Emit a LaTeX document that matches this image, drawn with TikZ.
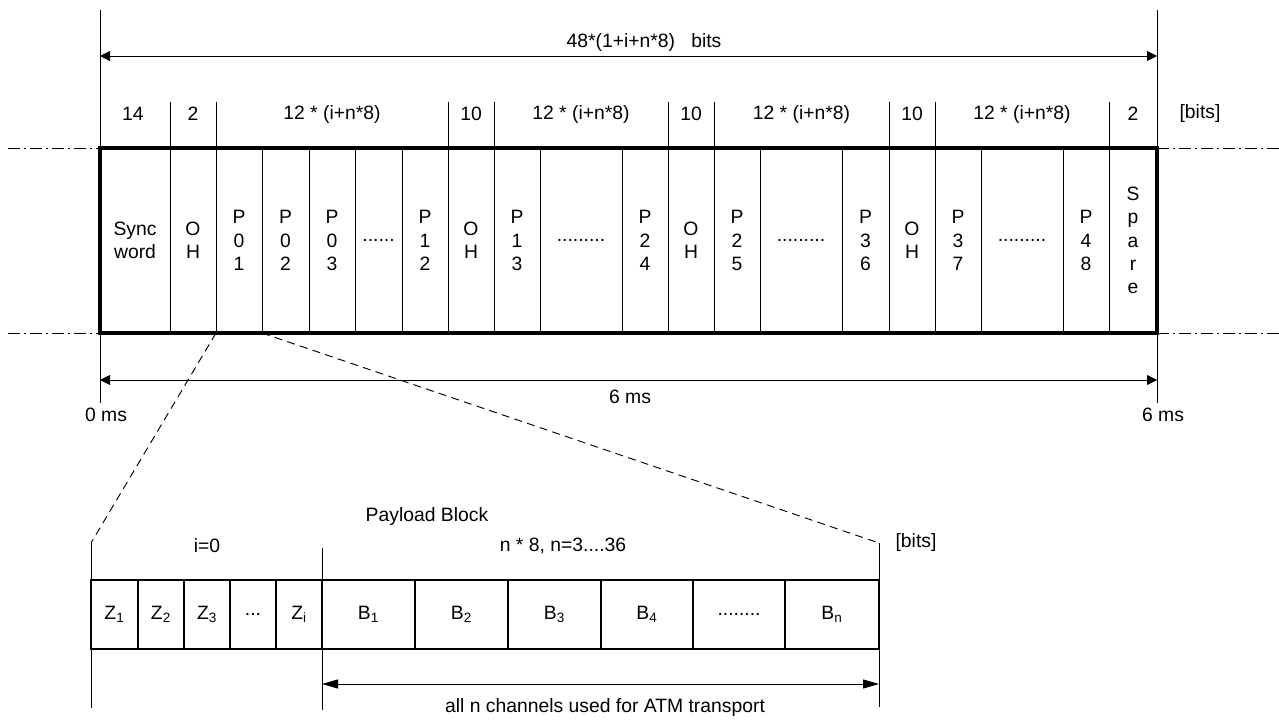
\documentclass[tikz,border=0pt]{standalone}
\usepackage{fontspec}
\setmainfont{Liberation Sans}
\usetikzlibrary{arrows.meta}

\tikzset{
  txt/.style={font=\fontsize{14.5}{17.5}\selectfont, inner sep=0pt, align=center},
  cell/.style={txt, draw, line width=0.7pt, minimum height=138.75pt, outer sep=0pt},
  zcell/.style={txt, draw, line width=1.5pt, minimum height=51.75pt, outer sep=0pt},
  thinline/.style={line width=0.7pt},
  dimarrow/.style={line width=0.7pt, {Triangle[length=7.5pt,width=7.5pt]}-{Triangle[length=7.5pt,width=7.5pt]}},
  atmarrow/.style={line width=0.7pt, {Triangle[length=12pt,width=6.75pt]}-{Triangle[length=12pt,width=6.75pt]}},
  axisline/.style={line width=0.7pt, dash pattern=on 9pt off 3pt on 1.5pt off 3pt},
  zoomline/.style={line width=0.7pt, dash pattern=on 6pt off 4pt},
}

\begin{document}
\begin{tikzpicture}[x=0.75pt, y=-0.75pt]
\useasboundingbox (0,0) rectangle (1279,720);

% frame cells
\foreach \l/\r/\txt [count=\k] in {100/170/{Sync\\word}, 170/216/{O\\H}, 216/262/{P\\0\\1},
  262/309/{P\\0\\2}, 309/355/{P\\0\\3}, 355/402/{......}, 402/448/{P\\1\\2}, 448/494/{O\\H},
  494/540/{P\\1\\3}, 540/622/{.........}, 622/668/{P\\2\\4}, 668/714/{O\\H}, 714/760/{P\\2\\5},
  760/842/{.........}, 842/889/{P\\3\\6}, 889/935/{O\\H}, 935/981/{P\\3\\7},
  981/1063/{.........}, 1063/1109/{P\\4\\8}, 1109/1157/{S\\p\\a\\r\\e}}
  \node[cell, minimum width={(\r-\l)*0.75pt}] (t\k) at ({(\l+\r)/2},240.5) {\txt};

\draw[line width=2.6pt] (t1.north west) rectangle (t20.south east);

% header
\foreach \k in {2,3,8,9,12,13,16,17,20}
  \draw[thinline] (t\k.north west) -- ++(0,-46);
\foreach \x/\lab [count=\k] in {133/14, 193/2, 332/{12 * (i+n*8)}, 471/10, 581/{12 * (i+n*8)},
  691/10, 801.5/{12 * (i+n*8)}, 912/10, 1022/{12 * (i+n*8)}, 1133/2, 1200/{[bits]}}
  \node[txt] (h\k) at (\x,114) {\lab};

% frame limits
\coordinate (fl-t) at (100,10);
\coordinate (fl-b) at (100,403);
\coordinate (fr-t) at (1157,10);
\coordinate (fr-b) at (1157,403);
\draw[thinline] (fl-t) -- (fl-b);
\draw[thinline] (fr-t) -- (fr-b);

\coordinate (bits-l) at (100,56);
\coordinate (bits-r) at (1157,56);
\draw[dimarrow] (bits-l) -- (bits-r);
\node[txt] (bits) at (644,43) {48*(1+i+n*8)\ \ \ bits};

\coordinate (ms-l) at (100,380);
\coordinate (ms-r) at (1157,380);
\draw[dimarrow] (ms-l) -- (ms-r);
\node[txt] (ms) at (630,397) {6 ms};
\node[txt] (ms0) at (106,415) {0 ms};
\node[txt] (ms6) at (1163,415) {6 ms};

\draw[axisline] (8,148) -- (t1.north west);
\draw[axisline] (8,333) -- (t1.south west);
\draw[axisline] (t20.north east) -- (1279,148);
\draw[axisline] (t20.south east) -- (1279,333);

% payload block
\foreach \l/\r/\txt [count=\k] in {91/138/{Z\textsubscript{1}}, 138/184/{Z\textsubscript{2}},
  184/230/{Z\textsubscript{3}}, 230/276/{...}, 276/322/{Z\textsubscript{i}},
  322/415/{B\textsubscript{1}}, 415/508/{B\textsubscript{2}}, 508/601/{B\textsubscript{3}},
  601/693/{B\textsubscript{4}}, 693/785/{........}, 785/879/{B\textsubscript{n}}}
  \node[zcell, minimum width={(\r-\l)*0.75pt}] (b\k) at ({(\l+\r)/2},614.5) {\txt};

\coordinate (zl) at (91,543);
\coordinate (zl-b) at (91,708);
\coordinate (zm) at (322,548);
\coordinate (zm-b) at (322,710);
\coordinate (zr) at (879,543);
\coordinate (zr-b) at (879,707);
\draw[thinline] (zl) -- (zl-b);
\draw[thinline] (zm) -- (zm-b);
\draw[thinline] (zr) -- (zr-b);

\draw[zoomline] (t3.south west) -- (zl);
\draw[zoomline] (t3.south east) -- (zr);

\node[txt] (payload) at (427,517) {Payload Block};
\node[txt] (izero) at (207,546) {i=0};
\node[txt] (nbits) at (563,546) {n * 8, n=3....36};
\node[txt] (pbits) at (916,543) {[bits]};

\coordinate (atm-l) at (322,684);
\coordinate (atm-r) at (879,684);
\draw[atmarrow] (atm-l) -- (atm-r);
\node[txt] (atm) at (605,707) {all n channels used for ATM transport};

\end{tikzpicture}
\end{document}
